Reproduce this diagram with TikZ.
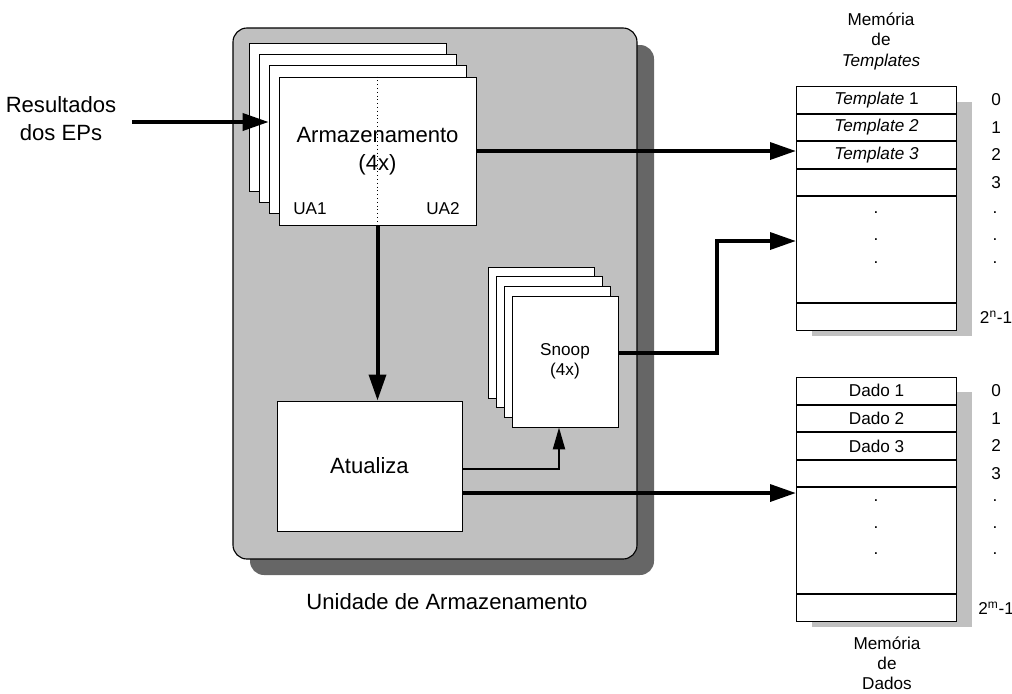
\documentclass[tikz,border=0pt]{standalone}
\usepackage{fontspec}
\setmainfont{Liberation Sans}
\usetikzlibrary{arrows.meta,positioning,calc}

\definecolor{unitgray}{HTML}{C0C0C0}
\definecolor{shadowgray}{HTML}{666666}

\begin{document}
\begin{tikzpicture}[x=0.025cm,y=-0.025cm,
	bigtxt/.style={font=\fontsize{15.7}{20}\selectfont},
	smalltxt/.style={font=\fontsize{12.2}{14.6}\selectfont},
	sheet/.style={draw,fill=white,line width=0.6pt,inner sep=0pt},
	armbox/.style={sheet,minimum width=4.925cm,minimum height=3.7cm},
	snpbox/.style={sheet,minimum width=2.65cm,minimum height=3.275cm},
	cell/.style={draw,fill=white,line width=0.7pt,minimum width=4cm,minimum height=0.665cm,inner sep=0pt,smalltxt},
	bigarrow/.style={line width=2.85pt,-{Triangle[length=0.65cm,width=0.42cm]}},
	smallarrow/.style={line width=1.6pt,-{Triangle[length=0.55cm,width=0.3cm]}}]
		\useasboundingbox (0,0) rectangle (1012,693);
		
		% unidade de armazenamento
		\fill[shadowgray,rounded corners=0.35cm] (250,45) rectangle (654,575);
		\draw[fill=unitgray,line width=0.8pt,rounded corners=0.35cm] (233,28) rectangle (637,559);
		\node[bigtxt] (unittit) at (447,602) {Unidade de Armazenamento};
		
		\foreach \i in {3,2,1}
			\node[armbox] (arm\i) at ({377.5-9.8*\i},{151-11.3*\i}) {};
		\node[armbox,bigtxt,align=center] (arm) at (377.5,151) {Armazenamento\\(4x)};
		\draw[dotted,line width=0.7pt] (arm.north) -- (arm.south);
		\node[smalltxt] (ua1) at (310,209) {UA1};
		\node[smalltxt] (ua2) at (443,209) {UA2};
		
		\foreach \i in {3,2,1}
			\node[snpbox] (snp\i) at ({565-7.8*\i},{361.5-9.6*\i}) {};
		\node[snpbox,smalltxt,align=center] (snp) at (565,361.5) {Snoop\\(4x)};
		
		\node[sheet,bigtxt,minimum width=4.625cm,minimum height=3.25cm] (atu) at (369.5,466) {Atualiza};
		
		\node[bigtxt,align=center] (res) at (61,119) {Resultados\\dos EPs};
		
		% memoria de templates
		\node[smalltxt,align=center] (tpltit) at (881,41) {Memória\\de\\\textit{Templates}};
		\fill[unitgray] (812,102) rectangle (972,336);
		\node[cell,anchor=north west] (tpl0) at (796,86) {\textit{Template} 1};
		\node[cell,below=0pt of tpl0] (tpl1) {\textit{Template 2}};
		\node[cell,below=0pt of tpl1] (tpl2) {\textit{Template 3}};
		\node[cell,below=0pt of tpl2] (tpl3) {};
		\node[cell,below=0pt of tpl3,minimum height=2.65cm] (tplmid) {};
		\node[cell,below=0pt of tplmid] (tpllast) {};
		\foreach \r/\t in {tpl0/0,tpl1/1,tpl2/2,tpl3/3,tpllast/2\textsuperscript{n}-1}
			\node[smalltxt] (\r-idx) at ([xshift=0.975cm]\r.east) {\t};
		\foreach \y in {213,240,263} {
			\node[smalltxt,anchor=base] (tpldot\y) at (876,\y) {.};
			\node[smalltxt,anchor=base] (tplidx\y) at (995,\y) {.};
		}
		
		% memoria de dados
		\node[font=\fontsize{12.2}{14.2}\selectfont,align=center,inner sep=0pt] (dadtit) at (887,663) {Memória\\de\\Dados};
		\fill[unitgray] (812,392) rectangle (972,627);
		\node[cell,anchor=north west] (dad0) at (796,377) {Dado 1};
		\node[cell,below=0pt of dad0] (dad1) {Dado 2};
		\node[cell,below=0pt of dad1] (dad2) {Dado 3};
		\node[cell,below=0pt of dad2] (dad3) {};
		\node[cell,below=0pt of dad3,minimum height=2.65cm] (dadmid) {};
		\node[cell,below=0pt of dadmid] (dadlast) {};
		\foreach \r/\t in {dad0/0,dad1/1,dad2/2,dad3/3,dadlast/2\textsuperscript{m}-1}
			\node[smalltxt] (\r-idx) at ([xshift=0.975cm]\r.east) {\t};
		\foreach \y in {501,528,554} {
			\node[smalltxt,anchor=base] (daddot\y) at (876,\y) {.};
			\node[smalltxt,anchor=base] (dadidx\y) at (995,\y) {.};
		}
		
		% ligacoes
		\coordinate (resout) at (132,122);
		\draw[bigarrow] (resout) -- (resout -| arm1.west);
		\draw[bigarrow] (arm.east) -- (arm.east -| tpl2.west);
		\draw[bigarrow] (arm.south) -- (arm.south |- atu.north);
		\coordinate (atusnp) at ([yshift=-0.075cm]atu.east);
		\draw[smallarrow] (atusnp) -| ([xshift=-0.15cm]snp.south);
		\coordinate (atudad) at ([yshift=-0.675cm]atu.east);
		\draw[bigarrow] (atudad) -- (atudad -| dadmid.west);
		\coordinate (snpout) at ([yshift=0.2125cm]snp.east);
		\coordinate (snpbend) at (717,241);
		\draw[bigarrow] (snpout) -| (snpbend) -- (snpbend -| tplmid.west);
\end{tikzpicture}
\end{document}
